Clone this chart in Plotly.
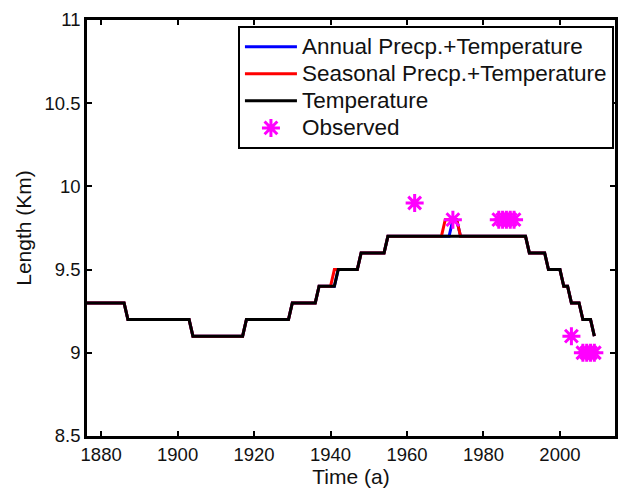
import plotly.graph_objects as go

# Modelled glacier length (Km) -- temperature-only run
temp_years = [1876, 1886, 1887, 1903, 1904, 1917, 1918, 1929, 1930, 1936, 1937,
              1941, 1942, 1947, 1948, 1954, 1955, 1991, 1992, 1996, 1997, 2000,
              2001, 2002, 2003, 2005, 2006, 2008, 2009]
temp_length = [9.3, 9.3, 9.2, 9.2, 9.1, 9.1, 9.2, 9.2, 9.3, 9.3, 9.4,
               9.4, 9.5, 9.5, 9.6, 9.6, 9.7, 9.7, 9.6, 9.6, 9.5, 9.5,
               9.4, 9.4, 9.3, 9.3, 9.2, 9.2, 9.1]

# Annual precipitation + temperature run
annual_years = [1876, 1886, 1887, 1903, 1904, 1917, 1918, 1929, 1930, 1936, 1937,
                1941, 1942, 1947, 1948, 1954, 1955, 1971, 1972, 1973, 1974, 1991,
                1992, 1996, 1997, 2000, 2001, 2002, 2003, 2005, 2006, 2008, 2009]
annual_length = [9.3, 9.3, 9.2, 9.2, 9.1, 9.1, 9.2, 9.2, 9.3, 9.3, 9.4,
                 9.4, 9.5, 9.5, 9.6, 9.6, 9.7, 9.7, 9.8, 9.8, 9.7, 9.7,
                 9.6, 9.6, 9.5, 9.5, 9.4, 9.4, 9.3, 9.3, 9.2, 9.2, 9.1]

# Seasonal precipitation + temperature run
seasonal_years = [1876, 1886, 1887, 1903, 1904, 1917, 1918, 1929, 1930, 1936, 1937,
                  1940, 1941, 1947, 1948, 1954, 1955, 1969, 1970, 1973, 1974, 1991,
                  1992, 1996, 1997, 2000, 2001, 2002, 2003, 2005, 2006, 2008, 2009]
seasonal_length = [9.3, 9.3, 9.2, 9.2, 9.1, 9.1, 9.2, 9.2, 9.3, 9.3, 9.4,
                   9.4, 9.5, 9.5, 9.6, 9.6, 9.7, 9.7, 9.8, 9.8, 9.7, 9.7,
                   9.6, 9.6, 9.5, 9.5, 9.4, 9.4, 9.3, 9.3, 9.2, 9.2, 9.1]

# Observed glacier length
obs_years = [1962, 1972, 1984, 1985, 1986, 1987, 1988, 2003, 2006, 2007, 2008, 2009]
obs_length = [9.9, 9.8, 9.8, 9.8, 9.8, 9.8, 9.8, 9.1, 9.0, 9.0, 9.0, 9.0]

x_ticks = [1880, 1900, 1920, 1940, 1960, 1980, 2000]
y_ticks = [8.5, 9, 9.5, 10, 10.5, 11]
y_tick_text = ["8.5", "9", "9.5", "10", "10.5", "11"]

FONT = "Liberation Sans, Arial, sans-serif"
INK = "#111111"


def legend_label(text):
    # Larger glyphs than the legend's own font size, keeping rows compact
    return f'<span style="font-size:22.5px">{text}</span>'


fig = go.Figure()
fig.add_trace(go.Scatter(x=annual_years, y=annual_length, mode="lines",
                         name=legend_label("Annual Precp.+Temperature"),
                         line=dict(color="#0000ff", width=3)))
fig.add_trace(go.Scatter(x=seasonal_years, y=seasonal_length, mode="lines",
                         name=legend_label("Seasonal Precp.+Temperature"),
                         line=dict(color="#ff0000", width=3)))
fig.add_trace(go.Scatter(x=temp_years, y=temp_length, mode="lines",
                         name=legend_label("Temperature"),
                         line=dict(color="#000000", width=3)))
fig.add_trace(go.Scatter(x=obs_years, y=obs_length, mode="markers",
                         name=legend_label("Observed"),
                         marker=dict(symbol="asterisk-open", size=15,
                                     color="#ff00ff",
                                     line=dict(color="#ff00ff", width=3))))

axis_common = dict(showline=True, linecolor="#000000", linewidth=2.5,
                   mirror="ticks", ticks="inside", ticklen=5, tickwidth=2,
                   tickcolor="#000000", showgrid=False, zeroline=False,
                   automargin=False,
                   tickfont=dict(family=FONT, size=18.5, color=INK))

fig.update_xaxes(range=[1876.3, 2014.4], tickvals=x_ticks,
                 title=dict(text="Time (a)", font=dict(family=FONT, size=21, color=INK),
                            standoff=6),
                 **axis_common)
fig.update_yaxes(range=[8.5, 11], tickvals=y_ticks, ticktext=y_tick_text,
                 title=dict(text="Length (Km)", font=dict(family=FONT, size=21, color=INK),
                            standoff=8),
                 **axis_common)

fig.update_layout(
    width=622, height=490,
    margin=dict(l=87, r=7, t=20, b=54),
    paper_bgcolor="white", plot_bgcolor="white",
    font=dict(family=FONT, color=INK),
    showlegend=True,
    legend=dict(x=0.998, y=0.985, xanchor="right", yanchor="top",
                bgcolor="white", bordercolor="#000000", borderwidth=2,
                font=dict(family=FONT, size=18.5, color=INK),
                tracegroupgap=0, itemwidth=52),
)

fig.write_html("out.html")
